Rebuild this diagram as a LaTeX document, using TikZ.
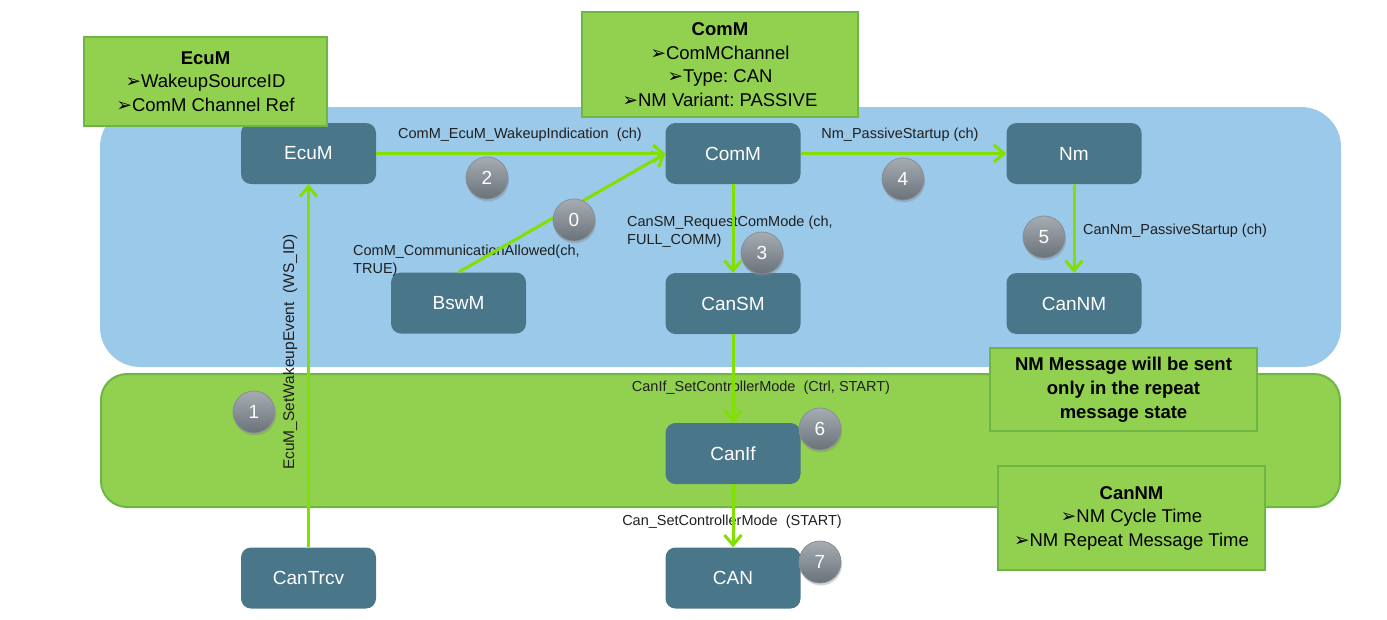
\documentclass[tikz,border=0pt]{standalone}
\usepackage{fontspec}
\setmainfont{Liberation Sans}
\newfontfamily\symfont{DejaVu Sans}
\usetikzlibrary{arrows.meta,shadows}
\definecolor{regionblue}{HTML}{9BC9EA}
\definecolor{regiongreen}{HTML}{92D050}
\definecolor{regionedge}{HTML}{6DB644}
\definecolor{modblue}{HTML}{4A7689}
\definecolor{callgreen}{HTML}{80E000}
\definecolor{badgetop}{HTML}{A6ACB2}
\definecolor{badgebot}{HTML}{6A727A}
\newcommand{\notemark}{{\symfont ➢}}
\frenchspacing
\tikzset{
  module/.style={rectangle, rounded corners=10pt, fill=modblue, text=white, minimum width=135pt, minimum height=61pt, inner sep=0pt, font=\fontsize{19}{22}\selectfont},
  note/.style={rectangle, fill=regiongreen, draw=regionedge, line width=2pt, align=center, inner sep=0pt, font=\fontsize{18.5}{23.5}\selectfont},
  call/.style={draw=callgreen, line width=3pt, -{Straight Barb[length=10pt,width=17pt]}},
  msg/.style={font=\fontsize{14.5}{18}\selectfont, text=black!88, inner sep=0pt},
  badge/.style={circle, minimum size=42pt, inner sep=0pt, top color=badgetop, bottom color=badgebot, draw=badgebot!80, line width=0.8pt, text=white, font=\fontsize{19}{19}\selectfont, drop shadow={shadow xshift=1pt, shadow yshift=-2.5pt, opacity=0.35}}
}
\begin{document}
\begin{tikzpicture}[x=1pt,y=-1pt]
\useasboundingbox (0,0) rectangle (1387,619);
\fill[regionblue, rounded corners=40pt] (100,107) rectangle (1341,367);
\filldraw[fill=regiongreen, draw=regionedge, line width=2pt, rounded corners=26pt] (101,374) rectangle (1340,507);

\node[module] (ecum) at (308.5,153.5) {EcuM};
\node[module] (comm) at (733,153.5) {ComM};
\node[module] (nm) at (1074,153.5) {Nm};
\node[module] (bswm) at (458.5,303) {BswM};
\node[module] (cansm) at (733,303.5) {CanSM};
\node[module] (cannm) at (1074,303.5) {CanNM};
\node[module] (canif) at (733,453.5) {CanIf};
\node[module] (cantrcv) at (308.5,578) {CanTrcv};
\node[module] (can) at (733,578) {CAN};

\node[msg] (lblwakeupind) at (520,135) {ComM\_EcuM\_WakeupIndication\ \ (ch)};
\node[msg] (lblpassive) at (900,135) {Nm\_PassiveStartup (ch)};
\node[msg, align=left, anchor=west] (lblallowed) at (353,261) {ComM\_CommunicationAllowed(ch,\\TRUE)};
\node[msg, align=left, anchor=west] (lblreqmode) at (627,232) {CanSM\_RequestComMode (ch,\\FULL\_COMM)};
\node[msg, anchor=west] (lblcannm) at (1083,231) {CanNm\_PassiveStartup (ch)};
\node[msg] (lblcanif) at (761,388) {CanIf\_SetControllerMode\ \ (Ctrl, START)};
\node[msg] (lblcan) at (732,522) {Can\_SetControllerMode\ \ (START)};
\node[msg, rotate=90, font=\fontsize{15.5}{18}\selectfont] (lblwakeup) at (290,352) {EcuM\_SetWakeupEvent\ \ (WS\_ID)};

\draw[call] (cantrcv.north) -- (ecum.south);
\draw[call] (ecum.east) -- (comm.west);
\draw[call] (bswm.north) -- (comm.west);
\draw[call] (comm.east) -- (nm.west);
\draw[call] (comm.south) -- (cansm.north);
\draw[call] (nm.south) -- (cannm.north);
\draw[call] (cansm.south) -- (canif.north);
\draw[call] (canif.south) -- (can.north);

\node[note, minimum width=243pt, minimum height=89pt] (ecumnote) at (205.5,81.5) {\textbf{EcuM}\\\notemark WakeupSourceID\\\notemark ComM Channel Ref};
\node[note, minimum width=276pt, minimum height=105pt] (commnote) at (720,64.5) {\textbf{ComM}\\\notemark ComMChannel\\\notemark Type: CAN\\\notemark NM Variant: PASSIVE};
\node[note, minimum width=267pt, minimum height=83pt, font=\bfseries\fontsize{18.5}{24}\selectfont] (nmmsgnote) at (1123.5,389.5) {NM Message will be sent\\only in the repeat\\message state};
\node[note, minimum width=267pt, minimum height=104pt] (cannmnote) at (1131.5,518) {\textbf{CanNM}\\\notemark NM Cycle Time\\\notemark NM Repeat Message Time};

\node[badge] (b0) at (574,220) {0};
\node[badge] (b1) at (254,412) {1};
\node[badge] (b2) at (487,178) {2};
\node[badge] (b3) at (762,253) {3};
\node[badge] (b4) at (903,179) {4};
\node[badge] (b5) at (1044,237) {5};
\node[badge] (b6) at (820,429) {6};
\node[badge] (b7) at (820,562) {7};
\end{tikzpicture}
\end{document}
